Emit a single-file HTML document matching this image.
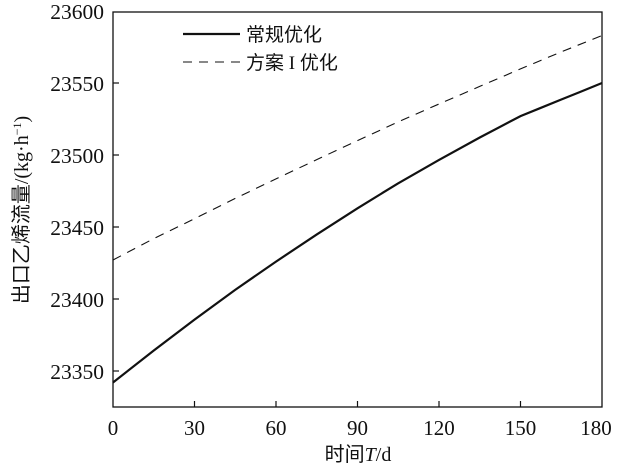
<!DOCTYPE html>
<html><head><meta charset="utf-8"><style>
body{margin:0;background:#fff;}
svg text{font-family:"Liberation Serif","Noto Serif CJK SC",serif;fill:#111;}
svg text.cj{font-family:"Liberation Serif","Noto Sans CJK SC",sans-serif;}
</style></head><body>
<svg width="620" height="467" viewBox="0 0 620 467" xmlns="http://www.w3.org/2000/svg">
<rect x="113" y="12" width="489" height="395" fill="none" stroke="#111" stroke-width="1.3"/>
<g stroke="#111" stroke-width="1.2">
<line x1="113" y1="83" x2="119" y2="83"/><line x1="113" y1="155" x2="119" y2="155"/>
<line x1="113" y1="227" x2="119" y2="227"/><line x1="113" y1="299" x2="119" y2="299"/>
<line x1="113" y1="371" x2="119" y2="371"/>
<line x1="194.5" y1="407" x2="194.5" y2="401"/><line x1="276" y1="407" x2="276" y2="401"/>
<line x1="357.5" y1="407" x2="357.5" y2="401"/><line x1="439" y1="407" x2="439" y2="401"/>
<line x1="520.5" y1="407" x2="520.5" y2="401"/>
</g>
<g font-size="21.5" text-anchor="end">
<text x="104" y="19">23600</text><text x="104" y="91">23550</text><text x="104" y="163">23500</text>
<text x="104" y="235">23450</text><text x="104" y="307">23400</text><text x="104" y="379">23350</text>
</g>
<g font-size="21" text-anchor="middle">
<text x="113" y="435">0</text><text x="194.5" y="435">30</text><text x="276" y="435">60</text>
<text x="357.5" y="435">90</text><text x="439" y="435">120</text><text x="520.5" y="435">150</text>
<text x="596" y="435">180</text>
</g>
<text class="cj" x="358" y="461" font-size="20" text-anchor="middle">时间<tspan font-style="italic" font-family="Liberation Serif">T</tspan>/d</text>
<text class="cj" transform="translate(28,210) rotate(-90)" font-size="20" text-anchor="middle">出口乙烯流量/(kg·h<tspan font-size="12" dy="-7">−1</tspan><tspan dy="7">)</tspan></text>
<polyline fill="none" stroke="#111" stroke-width="2.2" points="113,382.5 153.8,350.5 194.5,319.6 235,290 276,261.6 317,234.3 357.5,208.3 398,183.4 439,159.9 480,137.4 520.5,116.1 540,108.2 561,99.6 580,92 602,83"/>
<polyline fill="none" stroke="#111" stroke-width="1.1" stroke-dasharray="9,7" points="113,260 153,239 194.5,218.7 235,198.5 276,178.9 317,159.5 357.5,140.6 398,122 439,104 480,86.3 520.5,68.9 561,52 602,35.5"/>
<line x1="183" y1="34" x2="240" y2="34" stroke="#111" stroke-width="2.2"/>
<line x1="183" y1="62" x2="240" y2="62" stroke="#111" stroke-width="1.1" stroke-dasharray="9,7"/>
<text class="cj" x="246" y="41" font-size="19">常规优化</text>
<text class="cj" x="246" y="69" font-size="19">方案 I 优化</text>
</svg>
</body></html>
